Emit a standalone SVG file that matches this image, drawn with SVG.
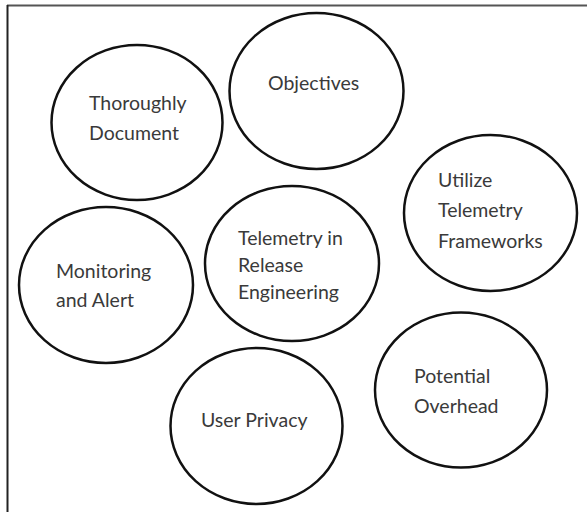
<svg xmlns="http://www.w3.org/2000/svg" width="587" height="512" viewBox="0 0 587 512">
<style>
.n ellipse{fill:none;stroke:#111;stroke-width:2.5}
.n text{font-family:Lato,"Liberation Sans",sans-serif;font-size:19.5px;fill:#3a3a3a}
</style>
<rect width="587" height="512" fill="#fff"/>
<g id="frame">
<line x1="7" y1="5.5" x2="587" y2="5.5" stroke="#555" stroke-width="2"/>
<line x1="7.5" y1="5" x2="7.5" y2="512" stroke="#222" stroke-width="2"/>
</g>
<g id="connectors"></g>
<g id="thoroughly" class="n"><ellipse cx="137" cy="122.5" rx="85.5" ry="77.5"/><text x="89" y="110">Thoroughly</text><text x="89" y="140">Document</text></g>
<g id="objectives" class="n"><ellipse cx="316.5" cy="91" rx="87" ry="78"/><text x="268" y="90">Objectives</text></g>
<g id="utilize" class="n"><ellipse cx="490.5" cy="213" rx="86.5" ry="78"/><text x="438" y="187">Utilize</text><text x="438" y="217">Telemetry</text><text x="438" y="248">Frameworks</text></g>
<g id="monitoring" class="n"><ellipse cx="106" cy="285" rx="87" ry="78"/><text x="56" y="278">Monitoring</text><text x="56" y="307">and Alert</text></g>
<g id="telemetry" class="n"><ellipse cx="292" cy="263.5" rx="87" ry="77.5"/><text x="238" y="245">Telemetry in</text><text x="238" y="272">Release</text><text x="238" y="299">Engineering</text></g>
<g id="privacy" class="n"><ellipse cx="256.5" cy="426" rx="86" ry="78"/><text x="201" y="427">User Privacy</text></g>
<g id="overhead" class="n"><ellipse cx="461" cy="390" rx="86" ry="77.5"/><text x="414" y="383">Potential</text><text x="414" y="413">Overhead</text></g>
</svg>
